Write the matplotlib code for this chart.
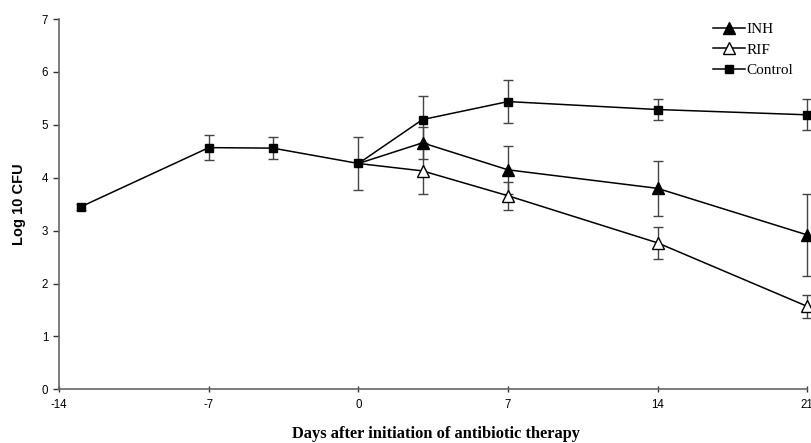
import matplotlib
matplotlib.use("Agg")
import matplotlib.pyplot as plt
from matplotlib.lines import Line2D

# Data
days_control = [-13, -7, -4, 0, 3, 7, 14, 21]
control = [3.45, 4.57, 4.56, 4.27, 5.10, 5.44, 5.29, 5.19]
control_err = [0.05, 0.23, 0.21, 0.50, 0.45, 0.40, 0.20, 0.29]

days_tx = [0, 3, 7, 14, 21]
inh = [4.27, 4.66, 4.15, 3.80, 2.92]
inh_err = [0.0, 0.30, 0.45, 0.52, 0.78]
rif = [4.27, 4.13, 3.66, 2.77, 1.57]
rif_err = [0.0, 0.43, 0.26, 0.30, 0.22]

xticks = [-14, -7, 0, 7, 14, 21]
yticks = [0, 1, 2, 3, 4, 5, 6, 7]

fig = plt.figure(figsize=(8.12, 4.43), dpi=100)
ax = fig.add_axes([0.073, 0.121, 0.921, 0.836])

ebkw = dict(ecolor="#444444", elinewidth=1.0, capsize=3.8, capthick=1.0, clip_on=False)

ax.errorbar(days_control, control, yerr=control_err, fmt="none", zorder=2, **ebkw)
ax.errorbar(days_tx[1:], inh[1:], yerr=inh_err[1:], fmt="none", zorder=2, **ebkw)
ax.errorbar(days_tx[1:], rif[1:], yerr=rif_err[1:], fmt="none", zorder=2, **ebkw)

ax.plot(days_control, control, color="black", lw=1.1, marker="s", ms=5.5,
        mfc="black", mec="black", clip_on=False, zorder=3)
ax.plot(days_tx, inh, color="black", lw=1.1, marker="^", ms=8,
        mfc="black", mec="black", clip_on=False, zorder=3, markevery=[1, 2, 3, 4])
ax.plot(days_tx, rif, color="black", lw=1.1, marker="^", ms=8,
        mfc="white", mec="black", clip_on=False, zorder=3, markevery=[1, 2, 3, 4])

ax.set_xlim(-14, 21)
ax.set_ylim(0, 7)
ax.set_xticks(xticks)
ax.set_xticklabels([str(t) for t in xticks])
ax.set_yticks(yticks)

for s in ["top", "right"]:
    ax.spines[s].set_visible(False)
for s in ["left", "bottom"]:
    ax.spines[s].set_color("#666666")
    ax.spines[s].set_linewidth(1.2)

ax.tick_params(axis="both", colors="#333333", labelcolor="black", length=4, width=1,
               labelsize=8.3)
ax.tick_params(axis="x", direction="inout", pad=5)
ax.tick_params(axis="y", direction="out", pad=4)
for lab in ax.get_xticklabels() + ax.get_yticklabels():
    lab.set_family("Liberation Sans")

ax.set_ylabel("Log 10 CFU", fontsize=10.5, fontweight="bold", family="Liberation Sans",
              labelpad=11)
fig.text(0.537, 0.012, "Days after initiation of antibiotic therapy", ha="center",
         va="baseline", fontsize=11.8, fontweight="bold", family="Liberation Serif")

handles = [
    Line2D([], [], color="black", lw=1.1, marker="^", ms=8, mfc="black", mec="black"),
    Line2D([], [], color="black", lw=1.1, marker="^", ms=8, mfc="white", mec="black"),
    Line2D([], [], color="black", lw=1.1, marker="s", ms=5.5, mfc="black", mec="black"),
]
leg = ax.legend(handles, ["INH", "RIF", "Control"], loc="upper left",
                bbox_to_anchor=(0.86, 1.02), frameon=False,
                prop={"family": "Liberation Serif", "size": 11},
                handlelength=2.1, handletextpad=0.1, labelspacing=0.45, borderpad=0.2)

fig.savefig("out.png", dpi=100)
